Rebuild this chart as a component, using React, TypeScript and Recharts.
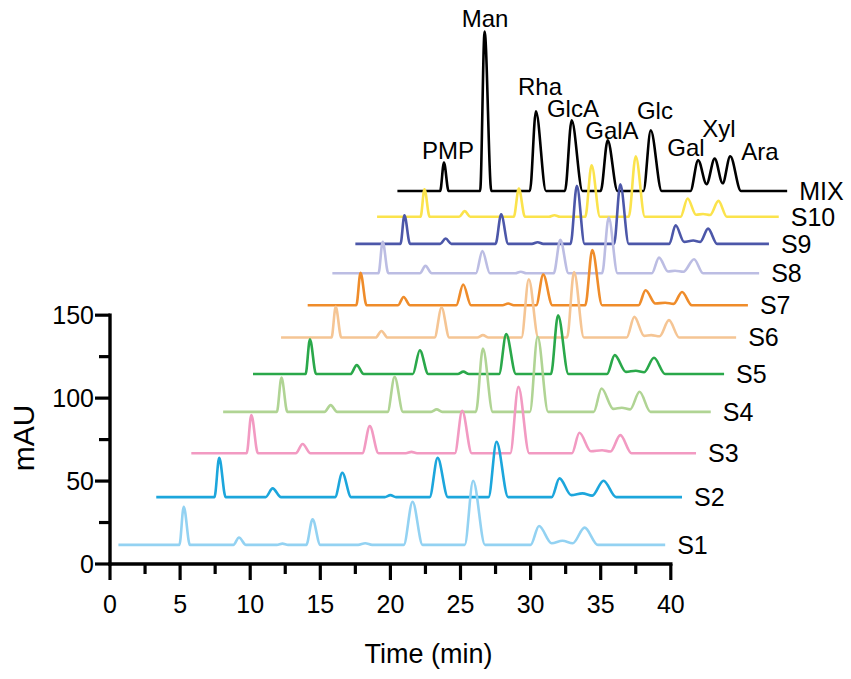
import React from 'react';
import { LineChart, Line, XAxis, YAxis, ReferenceLine, ReferenceDot } from 'recharts';

// chromatogram traces, [time (min), mAU] as drawn in the stacked plot
const S1: [number, number][] = [
  [0.6, 11.5], [4.95, 11.5], [5.26, 34.5], [5.7, 11.5], [8.8, 11.5], [9.2, 16], [9.7, 11.5],
  [11.9, 11.5], [12.3, 12.3], [12.7, 11.5], [14.0, 11.5], [14.45, 26.9], [15.0, 11.5],
  [17.7, 11.5], [18.2, 12.5], [18.7, 11.5], [20.95, 11.5], [21.58, 37.5], [22.3, 11.5],
  [25.3, 11.5], [25.9, 50.2], [26.75, 11.5], [30.0, 11.5], [30.6, 22.9], [31.5, 12.5],
  [32.27, 14], [33.0, 12.5], [33.85, 21.9], [34.8, 11.5], [39.6, 11.5],
];
const S2: [number, number][] = [
  [3.3, 40.3], [7.45, 40.3], [7.79, 64], [8.25, 40.3], [11.1, 40.3], [11.6, 45.6], [12.2, 40.3],
  [16.05, 40.3], [16.57, 55], [17.2, 40.3], [19.6, 40.3], [20.0, 41.5], [20.4, 40.3],
  [22.8, 40.3], [23.37, 64], [24.1, 40.3], [27.0, 40.3], [27.57, 73.7], [28.4, 40.3],
  [31.5, 40.3], [32.06, 51.6], [32.9, 41.5], [33.7, 42.6], [34.4, 41.2], [35.2, 50.2],
  [36.1, 40.3], [40.8, 40.3],
];
const S3: [number, number][] = [
  [5.8, 66.8], [9.75, 66.8], [10.08, 89.8], [10.55, 66.8], [13.25, 66.8], [13.74, 72.3],
  [14.3, 66.8], [18.0, 66.8], [18.53, 83.1], [19.15, 66.8], [21.1, 66.8], [21.5, 67.6],
  [21.9, 66.8], [24.6, 66.8], [25.12, 92.4], [25.8, 66.8], [28.55, 66.8], [29.13, 106.8],
  [29.9, 66.8], [32.95, 66.8], [33.48, 79.1], [34.3, 68], [35.1, 68.6], [35.7, 67.8],
  [36.4, 77.7], [37.2, 66.8], [41.8, 66.8],
];
const S4: [number, number][] = [
  [8.07, 91.7], [11.9, 91.7], [12.23, 112.4], [12.65, 91.7], [15.3, 91.7], [15.74, 95.8],
  [16.2, 91.7], [19.8, 91.7], [20.3, 112.8], [20.9, 91.7], [22.9, 91.7], [23.3, 93.2],
  [23.7, 91.7], [26.1, 91.7], [26.6, 129.9], [27.3, 91.7], [29.95, 91.7], [30.5, 137],
  [31.25, 91.7], [34.5, 91.7], [35.06, 105.8], [35.9, 93.5], [36.5, 94.2], [37.1, 93.2],
  [37.77, 103.8], [38.55, 91.7], [42.85, 91.7],
];
const S5: [number, number][] = [
  [10.2, 114.5], [13.95, 114.5], [14.26, 135.4], [14.7, 114.5], [17.15, 114.5], [17.6, 119.9],
  [18.1, 114.5], [21.6, 114.5], [22.1, 128.9], [22.7, 114.5], [24.8, 114.5], [25.2, 116],
  [25.6, 114.5], [27.75, 114.5], [28.26, 138.6], [28.95, 114.5], [31.45, 114.5], [31.96, 150],
  [32.7, 114.5], [35.45, 114.5], [36.0, 125.9], [36.8, 115.8], [37.5, 116.5], [38.1, 115.6],
  [38.8, 124.3], [39.6, 114.5], [43.8, 114.5],
];
const S6: [number, number][] = [
  [12.2, 136.5], [15.8, 136.5], [16.1, 155], [16.5, 136.5], [18.95, 136.5], [19.36, 140.5],
  [19.8, 136.5], [23.15, 136.5], [23.65, 154.6], [24.2, 136.5], [26.2, 136.5], [26.6, 138],
  [27.0, 136.5], [29.35, 136.5], [29.87, 171.7], [30.55, 136.5], [32.6, 136.5], [33.1, 176],
  [33.8, 136.5], [36.85, 136.5], [37.4, 149], [38.1, 137.5], [38.6, 138], [39.2, 137.3],
  [39.87, 147], [40.6, 136.5], [44.66, 136.5],
];
const S7: [number, number][] = [
  [14.1, 156], [17.57, 156], [17.87, 175.5], [18.3, 156], [20.55, 156], [20.94, 161],
  [21.4, 156], [24.7, 156], [25.19, 168.5], [25.75, 156], [28.0, 156], [28.4, 157],
  [28.8, 156], [30.4, 156], [30.9, 174.5], [31.55, 156], [33.9, 156], [34.4, 189.2],
  [35.1, 156], [37.7, 156], [38.2, 165], [38.9, 157], [39.6, 157.5], [40.2, 156.8],
  [40.8, 164], [41.5, 156], [45.5, 156],
];
const S8: [number, number][] = [
  [15.86, 175.3], [19.15, 175.3], [19.45, 194.2], [19.85, 175.3], [22.1, 175.3], [22.5, 179.7],
  [22.95, 175.3], [26.1, 175.3], [26.56, 188.6], [27.1, 175.3], [28.9, 175.3], [29.3, 176.2],
  [29.7, 175.3], [31.65, 175.3], [32.12, 195.4], [32.7, 175.3], [35.1, 175.3], [35.57, 208.8],
  [36.2, 175.3], [38.65, 175.3], [39.16, 184.7], [39.8, 176.3], [40.3, 176.8], [40.9, 176.2],
  [41.66, 183.7], [42.3, 175.3], [46.3, 175.3],
];
const S9: [number, number][] = [
  [17.5, 193], [20.72, 193], [21.0, 210.2], [21.4, 193], [23.55, 193], [23.94, 196.2],
  [24.35, 193], [27.5, 193], [27.9, 210.8], [28.4, 193], [30.1, 193], [30.5, 194],
  [30.9, 193], [32.85, 193], [33.3, 228], [33.85, 193], [35.95, 193], [36.4, 228.9],
  [37.0, 193], [39.9, 193], [40.34, 204.2], [40.95, 194.2], [41.6, 195], [42.1, 194.2],
  [42.66, 202.2], [43.3, 193], [47.0, 193],
];
const S10: [number, number][] = [
  [19.05, 209.3], [22.15, 209.3], [22.43, 225.9], [22.8, 209.3], [24.9, 209.3], [25.3, 212.7],
  [25.7, 209.3], [28.8, 209.3], [29.16, 226.3], [29.6, 209.3], [31.3, 209.3], [31.7, 210.2],
  [32.1, 209.3], [33.9, 209.3], [34.35, 240.4], [34.95, 209.3], [37.0, 209.3], [37.5, 245.8],
  [38.15, 209.3], [40.7, 209.3], [41.2, 220.3], [41.8, 210.5], [42.3, 211], [42.8, 210.4],
  [43.4, 218.9], [44.0, 209.3], [47.7, 209.3],
];
const MIX: [number, number][] = [
  [20.5, 224.9], [23.55, 224.9], [23.82, 242], [24.15, 224.9], [26.4, 224.9], [26.72, 321],
  [27.2, 224.9], [29.95, 224.9], [30.38, 272.9], [31.1, 224.9], [32.45, 224.9], [32.93, 267.5],
  [33.7, 224.9], [35.0, 224.9], [35.5, 255.4], [36.2, 224.9], [38.05, 224.9], [38.57, 261.4],
  [39.35, 224.9], [41.4, 224.9], [41.95, 243.4], [42.55, 229], [43.13, 244.4], [43.7, 229.5],
  [44.24, 245.8], [45.0, 224.9], [48.3, 224.9],
];

// back to front, so S1 ends up on top
const traces = [
  { name: 'MIX', color: '#000000', points: MIX },
  { name: 'S10', color: '#fbe34c', points: S10 },
  { name: 'S9', color: '#4c57a9', points: S9 },
  { name: 'S8', color: '#bcbde3', points: S8 },
  { name: 'S7', color: '#ef8c2a', points: S7 },
  { name: 'S6', color: '#f5c594', points: S6 },
  { name: 'S5', color: '#2aa84a', points: S5 },
  { name: 'S4', color: '#b0d494', points: S4 },
  { name: 'S3', color: '#f29ac2', points: S3 },
  { name: 'S2', color: '#1ca6dc', points: S2 },
  { name: 'S1', color: '#93d2f2', points: S1 },
];

// sugar names over the MIX peaks: [name, time, mAU] of the text centre
const peakLabels: [string, number, number][] = [
  ['PMP', 24.11, 249.5], ['Man', 26.75, 329], ['Rha', 30.67, 288], ['GlcA', 33.02, 274.8],
  ['GalA', 35.8, 261.6], ['Glc', 38.87, 273.5], ['Gal', 41.08, 251.2], ['Xyl', 43.44, 262.7],
  ['Ara', 46.36, 248.8],
];

const xTicks = [0, 2.5, 5, 7.5, 10, 12.5, 15, 17.5, 20, 22.5, 25, 27.5, 30, 32.5, 35, 37.5, 40];
const yTicks = [0, 25, 50, 75, 100, 125, 150];

const XTick = (props: any) => {
  const { x, y, payload } = props;
  const major = payload.value % 5 === 0;
  return (
    <g>
      <line x1={x} x2={x} y1={y} y2={y + (major ? 16 : 10)} stroke="#000" strokeWidth={3.2} />
      {major && (
        <text x={x} y={y + 49} textAnchor="middle" fontSize={25} fill="#000">
          {payload.value}
        </text>
      )}
    </g>
  );
};

const YTick = (props: any) => {
  const { x, y, payload } = props;
  const major = payload.value % 50 === 0;
  return (
    <g>
      <line x1={x - (major ? 15 : 11)} x2={x} y1={y} y2={y} stroke="#000" strokeWidth={3.2} />
      {major && (
        <text x={x - 16} y={y + 9} textAnchor="end" fontSize={25} fill="#000">
          {payload.value}
        </text>
      )}
    </g>
  );
};

const YLabel = () => (
  <text x={34} y={438} transform="rotate(-90 34 438)" textAnchor="middle" fontSize={30} fill="#000">
    mAU
  </text>
);

export default function App() {
  return (
    <div
      style={{
        position: 'absolute',
        left: 0,
        top: 0,
        width: 851,
        height: 679,
        background: '#fff',
        fontFamily: '"Liberation Sans", Arial, sans-serif',
      }}
    >
      <LineChart width={851} height={679} margin={{ top: 0, right: 40, bottom: 0, left: 0 }}>
        <XAxis
          type="number"
          dataKey="t"
          domain={[0, 50]}
          ticks={xTicks}
          interval={0}
          axisLine={false}
          tickLine={false}
          tickSize={0}
          tickMargin={0}
          tick={XTick}
          height={115}
          label={{ value: 'Time (min)', position: 'insideBottom', offset: 16, dx: -32, fontSize: 27, fill: '#000' }}
        />
        <YAxis
          type="number"
          domain={[0, 340]}
          ticks={yTicks}
          interval={0}
          axisLine={false}
          tickLine={false}
          tickSize={0}
          tickMargin={0}
          tick={YTick}
          width={110}
          label={YLabel}
        />
        <ReferenceLine segment={[{ x: 0, y: 0 }, { x: 40, y: 0 }]} stroke="#000" strokeWidth={3.4} strokeLinecap="square" />
        <ReferenceLine segment={[{ x: 0, y: 0 }, { x: 0, y: 150 }]} stroke="#000" strokeWidth={3.4} strokeLinecap="square" />
        {traces.map((tr) => (
          <Line
            key={tr.name}
            data={tr.points.map(([t, v]) => ({ t, v }))}
            dataKey="v"
            type="monotone"
            stroke={tr.color}
            strokeWidth={2.6}
            dot={false}
            isAnimationActive={false}
          />
        ))}
        {traces.map((tr) => {
          const last = tr.points[tr.points.length - 1];
          return (
            <ReferenceDot
              key={'lbl-' + tr.name}
              x={last[0]}
              y={last[1]}
              r={0}
              fill="none"
              stroke="none"
              label={{ value: tr.name, position: 'right', offset: 12, fontSize: 25, fill: '#000' }}
            />
          );
        })}
        {peakLabels.map(([name, t, v]) => (
          <ReferenceDot
            key={'pk-' + name}
            x={t}
            y={v}
            r={0}
            fill="none"
            stroke="none"
            label={{ value: name, position: 'center', fontSize: 24, fill: '#000' }}
          />
        ))}
      </LineChart>
    </div>
  );
}
